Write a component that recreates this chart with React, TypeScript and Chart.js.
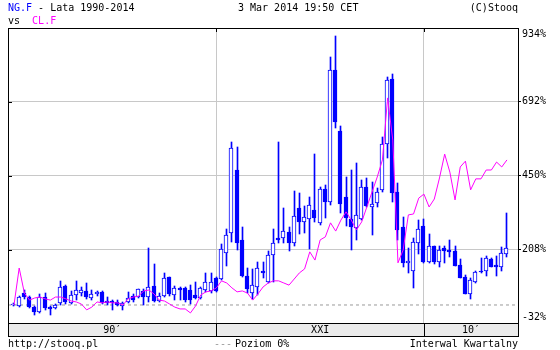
import React, { useEffect, useRef } from 'react';
import { Chart, registerables } from 'chart.js';

Chart.register(...registerables);

// NG.F quarterly candles, 1990 Q2 .. 2014 Q1 (values in % as on the chart's scale)
const ngOpen = [
  27, 24, 66, 53, 20, 4, 53, 20, 17, 34,
  89, 34, 60, 66, 73, 50, 63, 70, 40, 40,
  37, 24, 37, 56, 53, 73, 53, 89, 40, 56,
  119, 60, 83, 83, 76, 60, 50, 76, 73, 115,
  112, 197, 263, 469, 240, 122, 66, 86, 138, 102,
  191, 246, 246, 266, 230, 345, 299, 309, 338, 296,
  407, 364, 797, 597, 381, 309, 279, 309, 413, 348,
  361, 404, 554, 767, 397, 282, 165, 138, 230, 286,
  168, 220, 168, 214, 207, 204, 158, 119, 63, 102,
  138, 138, 178, 158, 151, 194,
];
const ngHigh = [
  34, 56, 76, 56, 24, 63, 66, 24, 30, 106,
  92, 73, 106, 86, 99, 76, 73, 73, 53, 43,
  43, 37, 70, 63, 79, 79, 214, 161, 66, 132,
  119, 89, 86, 86, 92, 102, 86, 132, 132, 118,
  227, 276, 561, 544, 282, 148, 145, 168, 168, 204,
  276, 561, 345, 282, 400, 394, 351, 381, 521, 413,
  420, 839, 908, 613, 446, 469, 492, 436, 443, 430,
  410, 577, 774, 783, 427, 315, 214, 246, 305, 309,
  260, 220, 220, 220, 240, 220, 178, 125, 115, 138,
  181, 187, 181, 187, 217, 328,
];
const ngLow = [
  24, 20, 47, 17, -6, 1, 11, -6, 14, 27,
  30, 30, 43, 56, 47, 43, 56, 30, 27, 11,
  24, 11, 34, 37, 50, 27, 37, 37, 37, 53,
  56, 43, 43, 37, 30, 47, 47, 70, 66, 70,
  109, 155, 233, 207, 119, 66, 47, 60, 115, 99,
  102, 230, 230, 204, 220, 260, 263, 210, 299, 289,
  312, 354, 607, 328, 286, 207, 240, 305, 348, 256,
  348, 397, 508, 364, 240, 151, 132, 83, 194, 165,
  165, 161, 151, 165, 184, 155, 115, 63, 47, 99,
  132, 122, 151, 122, 138, 184,
];
const ngClose = [
  30, 53, 53, 20, 4, 53, 17, 14, 27, 86,
  37, 60, 76, 76, 53, 63, 70, 34, 34, 34,
  27, 34, 50, 43, 79, 53, 86, 40, 56, 115,
  63, 83, 76, 43, 43, 50, 83, 102, 102, 73,
  210, 256, 541, 230, 122, 79, 92, 148, 132, 191,
  230, 240, 269, 230, 318, 299, 315, 354, 312, 407,
  364, 797, 626, 358, 312, 282, 322, 413, 351, 358,
  397, 554, 764, 394, 273, 165, 171, 233, 276, 168,
  220, 168, 207, 204, 201, 155, 115, 63, 109, 135,
  135, 181, 151, 151, 197, 214,
];
// CL.F comparison line, quarterly
const clClose = [
  27, 148, 66, 43, 50, 53, 47, 43, 53, 53,
  47, 40, 37, 30, 11, 20, 37, 34, 37, 34,
  34, 27, 47, 53, 56, 73, 76, 63, 43, 40,
  30, 20, 14, 14, 1, 24, 60, 70, 73, 83,
  106, 99, 83, 70, 73, 66, 43, 63, 86, 99,
  106, 106, 99, 92, 112, 132, 145, 201, 174, 240,
  250, 296, 269, 305, 332, 305, 273, 299, 348, 397,
  446, 502, 705, 567, 165, 207, 322, 325, 377, 390,
  348, 374, 443, 521, 462, 371, 479, 498, 404, 440,
  440, 469, 469, 495, 479, 502,
];

const yTickValues = [-32, 208, 450, 692, 934];
const decadeBounds = [39, 79]; // 2000 Q1, 2010 Q1
const decadeLabels = ['90′', 'XXI', '10′'];
const zeroLevel = 27;

const X_MIN = -1.156;
const X_MAX = 97.13;
const BLUE = '#0000ff';
const MAGENTA = '#ff00ff';
const GRID = '#c8c8c8';
const FONT = "'DejaVu Sans Mono', monospace";

export default function App() {
  const ref = useRef<HTMLCanvasElement>(null);

  useEffect(() => {
    document.body.style.margin = '0';
    const canvas = ref.current;
    if (!canvas) return;
    const idx = ngOpen.map((_, i) => i);
    const bandTicks = [
      (X_MIN + decadeBounds[0]) / 2,
      decadeBounds[0],
      (decadeBounds[0] + decadeBounds[1]) / 2,
      decadeBounds[1],
      (decadeBounds[1] + X_MAX) / 2,
    ];
    const yMin = yTickValues[0];
    const yMax = yTickValues[yTickValues.length - 1];

    // snap bar elements (computed by the scales) to whole pixels for crisp candles
    const snapPlugin = {
      id: 'snap',
      afterDatasetsUpdate(chart: any) {
        chart.getSortedVisibleDatasetMetas().forEach((meta: any) => {
          if (meta.type !== 'bar') return;
          meta.data.forEach((el: any) => {
            const odd = Math.round(el.width) % 2 === 1;
            el.x = Math.floor(el.x) + (odd ? 0.5 : 0);
            el.y = Math.round(el.y);
            el.base = Math.round(el.base);
          });
        });
      },
    };

    const framePlugin = {
      id: 'frame',
      afterDraw(chart: any) {
        const { ctx, chartArea: a, scales } = chart;
        const xs = scales.x;
        const ys = scales.y;
        ctx.save();
        ctx.strokeStyle = '#000';
        ctx.lineWidth = 1;
        ctx.strokeRect(a.left + 0.5, a.top + 0.5, a.right - a.left, a.bottom - a.top);
        ctx.strokeRect(a.left + 0.5, a.bottom + 0.5, a.right - a.left, xs.bottom - a.bottom);
        ctx.beginPath();
        decadeBounds.forEach((b) => {
          const px = Math.round(xs.getPixelForValue(b)) + 0.5;
          ctx.moveTo(px, a.bottom);
          ctx.lineTo(px, xs.bottom);
          ctx.moveTo(px, a.top);
          ctx.lineTo(px, a.top + 4);
        });
        yTickValues.slice(1, -1).forEach((v) => {
          const py = Math.round(ys.getPixelForValue(v)) + 0.5;
          ctx.moveTo(a.left, py);
          ctx.lineTo(a.left + 4, py);
        });
        ctx.stroke();
        ctx.restore();
      },
    };

    const chart = new Chart(canvas, {
      type: 'bar',
      data: {
        datasets: [
          {
            type: 'line',
            label: 'CL.F',
            data: clClose.map((v, i) => ({ x: i, y: v })),
            borderColor: MAGENTA,
            borderWidth: 1,
            pointRadius: 0,
            tension: 0,
            fill: false,
          } as any,
          {
            type: 'bar',
            label: 'NG.F',
            data: idx.map((i) => ({ x: i, y: [ngOpen[i], ngClose[i]] })),
            backgroundColor: idx.map((i) => (ngClose[i] >= ngOpen[i] ? '#ffffff' : BLUE)),
            borderColor: BLUE,
            borderWidth: 1,
            borderSkipped: false,
            barThickness: 4,
            grouped: false,
            minBarLength: 1,
          } as any,
          {
            type: 'bar',
            label: 'NG.F range',
            data: idx.map((i) => ({ x: i, y: [ngLow[i], ngHigh[i]] })),
            backgroundColor: BLUE,
            borderWidth: 0,
            barThickness: 1,
            grouped: false,
          } as any,
          {
            type: 'line',
            label: 'Poziom 0%',
            data: [
              { x: X_MIN, y: zeroLevel },
              { x: X_MAX, y: zeroLevel },
            ],
            borderColor: '#999999',
            borderWidth: 1,
            borderDash: [3, 3],
            pointRadius: 0,
          } as any,
        ],
      },
      options: {
        responsive: false,
        animation: false,
        devicePixelRatio: 1,
        layout: { padding: { left: 8, top: 28, right: 0, bottom: 14 } },
        plugins: { legend: { display: false }, tooltip: { enabled: false } },
        scales: {
          x: {
            type: 'linear',
            position: 'bottom',
            min: X_MIN,
            max: X_MAX,
            offset: false,
            backgroundColor: '#ebebeb',
            afterBuildTicks: (s: any) => {
              s.ticks = bandTicks.map((v) => ({ value: v }));
            },
            afterFit: (s: any) => {
              s.height = 13;
            },
            border: { display: false },
            grid: {
              offset: false,
              drawTicks: false,
              lineWidth: 1,
              color: (c: any) =>
                c.tick && decadeBounds.includes(c.tick.value) ? GRID : 'rgba(0,0,0,0)',
            },
            ticks: {
              autoSkip: false,
              maxRotation: 0,
              padding: 1,
              color: '#000',
              font: { family: FONT, size: 10 },
              callback: (_v: any, i: number) => (i % 2 === 0 ? decadeLabels[i / 2] : ''),
            },
          } as any,
          y: {
            type: 'linear',
            position: 'right',
            min: yMin,
            max: yMax,
            afterBuildTicks: (s: any) => {
              s.ticks = yTickValues.map((v) => ({ value: v }));
            },
            afterFit: (s: any) => {
              s.width = 42;
            },
            border: { display: false },
            grid: {
              lineWidth: 1,
              tickLength: 3,
              drawTicks: true,
              color: (c: any) =>
                c.tick && c.tick.value > yMin && c.tick.value < yMax ? GRID : 'rgba(0,0,0,0)',
              tickColor: (c: any) =>
                c.tick && c.tick.value > yMin && c.tick.value < yMax ? '#000' : 'rgba(0,0,0,0)',
            },
            ticks: {
              padding: 1,
              color: '#000',
              font: { family: FONT, size: 10 },
              callback: (v: any) => {
                if (v === yMax) return ['', v + '%'];
                if (v === yMin) return [v + '%', ''];
                return v + '%';
              },
            },
          } as any,
        },
      },
      plugins: [snapPlugin, framePlugin],
    });
    return () => chart.destroy();
  }, []);

  const txt: React.CSSProperties = {
    position: 'absolute',
    lineHeight: '12px',
    whiteSpace: 'pre',
    color: '#000',
  };

  return (
    <div style={{ position: 'relative', width: 560, height: 350, fontFamily: FONT, fontSize: 10 }}>
      <canvas ref={ref} width={560} height={350} style={{ position: 'absolute', left: 0, top: 0, display: 'block' }} />
      <div style={{ ...txt, left: 8, top: 2 }}>
        <span style={{ color: BLUE }}>NG.F</span> - Lata 1990-2014
      </div>
      <div style={{ ...txt, left: 238, top: 2 }}>3 Mar 2014 19:50 CET</div>
      <div style={{ ...txt, right: 42, top: 2 }}>(C)Stooq</div>
      <div style={{ ...txt, left: 8, top: 15 }}>
        vs  <span style={{ color: MAGENTA }}>CL.F</span>
      </div>
      <div style={{ ...txt, left: 8, top: 338 }}>http://stooq.pl</div>
      <div style={{ ...txt, left: 214, top: 338 }}>
        <span style={{ color: '#999999' }}>---</span>
        <span style={{ marginLeft: 3 }}>Poziom 0%</span>
      </div>
      <div style={{ ...txt, right: 42, top: 338 }}>Interwal Kwartalny</div>
    </div>
  );
}
